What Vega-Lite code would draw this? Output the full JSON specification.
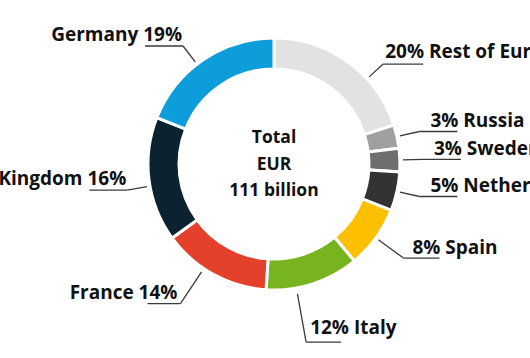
{
  "$schema": "https://vega.github.io/schema/vega-lite/v6.json",
  "width": 512,
  "height": 328,
  "autosize": "none",
  "padding": {"left": 18, "top": 0, "right": 0, "bottom": 30},
  "background": "white",
  "config": {"view": {"stroke": null}},
  "data": {"values": [
    {"country": "Rest of Europe", "value": 20, "order": 1, "label": "20% Rest of Europe"},
    {"country": "Russia", "value": 3, "order": 2, "label": "3% Russia"},
    {"country": "Sweden", "value": 3, "order": 3, "label": "3% Sweden"},
    {"country": "Netherlands", "value": 5, "order": 4, "label": "5% Netherlands"},
    {"country": "Spain", "value": 8, "order": 5, "label": "8% Spain"},
    {"country": "Italy", "value": 12, "order": 6, "label": "12% Italy"},
    {"country": "France", "value": 14, "order": 7, "label": "France 14%"},
    {"country": "United Kingdom", "value": 16, "order": 8, "label": "United Kingdom 16%"},
    {"country": "Germany", "value": 19, "order": 9, "label": "Germany 19%"}
  ]},
  "transform": [
    {"stack": "value", "groupby": [], "sort": [{"field": "order", "order": "ascending"}], "as": ["v0", "v1"]}
  ],
  "layer": [
    {
      "mark": {"type": "arc", "outerRadius": 126, "innerRadius": 95, "stroke": "white", "strokeWidth": 3},
      "encoding": {
        "theta": {"field": "v0", "type": "quantitative", "stack": null, "scale": {"domain": [0, 100]}},
        "theta2": {"field": "v1"},
        "color": {
          "field": "country", "type": "nominal", "legend": null,
          "scale": {
            "domain": ["Rest of Europe", "Russia", "Sweden", "Netherlands", "Spain", "Italy", "France", "United Kingdom", "Germany"],
            "range": ["#e2e2e2", "#a0a0a0", "#6e6e6e", "#333333", "#fdc000", "#77b41f", "#e4412c", "#0b2330", "#0d9ddb"]
          }
        }
      }
    },
    {
      "transform": [
        {"filter": {"field": "country", "oneOf": ["Russia", "Sweden", "Netherlands"]}},
        {"calculate": "2*PI*(datum.v0 + 0.5*datum.value)/100", "as": "a"},
        {"calculate": "129*sin(datum.a)", "as": "x1"},
        {"calculate": "129*cos(datum.a)", "as": "y1"},
        {"calculate": "149*sin(datum.a)", "as": "x2"},
        {"calculate": "149*cos(datum.a)", "as": "y2"},
        {"calculate": "datum.x2 + 38", "as": "x3"}
      ],
      "layer": [
        {"mark": {"type": "rule", "stroke": "#3a3a3a", "strokeWidth": 1.3},
         "encoding": {
           "x": {"field": "x1", "type": "quantitative", "scale": {"domain": [-256, 256], "nice": false, "zero": false}, "axis": null},
           "y": {"field": "y1", "type": "quantitative", "scale": {"domain": [-164, 164], "nice": false, "zero": false}, "axis": null},
           "x2": {"field": "x2"}, "y2": {"field": "y2"}}},
        {"mark": {"type": "rule", "stroke": "#3a3a3a", "strokeWidth": 1.3},
         "encoding": {
           "x": {"field": "x2", "type": "quantitative"},
           "y": {"field": "y2", "type": "quantitative"},
           "x2": {"field": "x3"}}},
        {"mark": {"type": "text", "align": "left", "baseline": "alphabetic", "dx": 11, "dy": -4.5, "font": "Open Sans", "fontSize": 19, "fontWeight": 700, "fill": "#111111"},
         "encoding": {
           "x": {"field": "x2", "type": "quantitative"},
           "y": {"field": "y2", "type": "quantitative"},
           "text": {"field": "label"}}}
      ]
    },
    {
      "transform": [
        {"filter": {"field": "country", "equal": "Rest of Europe"}},
        {"calculate": "2*PI*(datum.v0 + 0.66*datum.value)/100", "as": "a"},
        {"calculate": "129*sin(datum.a)", "as": "x1"},
        {"calculate": "129*cos(datum.a)", "as": "y1"},
        {"calculate": "148*sin(datum.a)", "as": "x2"},
        {"calculate": "148*cos(datum.a)", "as": "y2"},
        {"calculate": "datum.x2 + 40", "as": "x3"}
      ],
      "layer": [
        {"mark": {"type": "rule", "stroke": "#3a3a3a", "strokeWidth": 1.3},
         "encoding": {"x": {"field": "x1", "type": "quantitative"}, "y": {"field": "y1", "type": "quantitative"}, "x2": {"field": "x2"}, "y2": {"field": "y2"}}},
        {"mark": {"type": "rule", "stroke": "#3a3a3a", "strokeWidth": 1.3},
         "encoding": {"x": {"field": "x2", "type": "quantitative"}, "y": {"field": "y2", "type": "quantitative"}, "x2": {"field": "x3"}}},
        {"mark": {"type": "text", "align": "left", "baseline": "alphabetic", "dx": 2, "dy": -6.5, "font": "Open Sans", "fontSize": 19, "fontWeight": 700, "fill": "#111111"},
         "encoding": {"x": {"field": "x2", "type": "quantitative"}, "y": {"field": "y2", "type": "quantitative"}, "text": {"field": "label"}}}
      ]
    },
    {
      "transform": [
        {"filter": {"field": "country", "equal": "Spain"}},
        {"calculate": "2*PI*(datum.v0 + 0.5*datum.value)/100", "as": "a"},
        {"calculate": "129*sin(datum.a)", "as": "x1"},
        {"calculate": "129*cos(datum.a)", "as": "y1"},
        {"calculate": "160*sin(datum.a)", "as": "x2"},
        {"calculate": "160*cos(datum.a)", "as": "y2"},
        {"calculate": "datum.x2 + 36", "as": "x3"}
      ],
      "layer": [
        {"mark": {"type": "rule", "stroke": "#3a3a3a", "strokeWidth": 1.3},
         "encoding": {"x": {"field": "x1", "type": "quantitative"}, "y": {"field": "y1", "type": "quantitative"}, "x2": {"field": "x2"}, "y2": {"field": "y2"}}},
        {"mark": {"type": "rule", "stroke": "#3a3a3a", "strokeWidth": 1.3},
         "encoding": {"x": {"field": "x2", "type": "quantitative"}, "y": {"field": "y2", "type": "quantitative"}, "x2": {"field": "x3"}}},
        {"mark": {"type": "text", "align": "left", "baseline": "alphabetic", "dx": 9, "dy": -4.5, "font": "Open Sans", "fontSize": 19, "fontWeight": 700, "fill": "#111111"},
         "encoding": {"x": {"field": "x2", "type": "quantitative"}, "y": {"field": "y2", "type": "quantitative"}, "text": {"field": "label"}}}
      ]
    },
    {
      "transform": [
        {"filter": {"field": "country", "equal": "Italy"}},
        {"calculate": "2*PI*(datum.v0 + 0.68*datum.value)/100", "as": "a"},
        {"calculate": "132*sin(datum.a)", "as": "x1"},
        {"calculate": "132*cos(datum.a)", "as": "y1"},
        {"calculate": "181*sin(datum.a)", "as": "x2"},
        {"calculate": "181*cos(datum.a)", "as": "y2"},
        {"calculate": "datum.x2 + 35", "as": "x3"}
      ],
      "layer": [
        {"mark": {"type": "rule", "stroke": "#3a3a3a", "strokeWidth": 1.3},
         "encoding": {"x": {"field": "x1", "type": "quantitative"}, "y": {"field": "y1", "type": "quantitative"}, "x2": {"field": "x2"}, "y2": {"field": "y2"}}},
        {"mark": {"type": "rule", "stroke": "#3a3a3a", "strokeWidth": 1.3},
         "encoding": {"x": {"field": "x2", "type": "quantitative"}, "y": {"field": "y2", "type": "quantitative"}, "x2": {"field": "x3"}}},
        {"mark": {"type": "text", "align": "left", "baseline": "alphabetic", "dx": 4, "dy": -8, "font": "Open Sans", "fontSize": 19, "fontWeight": 700, "fill": "#111111"},
         "encoding": {"x": {"field": "x2", "type": "quantitative"}, "y": {"field": "y2", "type": "quantitative"}, "text": {"field": "label"}}}
      ]
    },
    {
      "transform": [
        {"filter": {"field": "country", "equal": "France"}},
        {"calculate": "2*PI*(datum.v0 + 0.6*datum.value)/100", "as": "a"},
        {"calculate": "130*sin(datum.a)", "as": "x1"},
        {"calculate": "130*cos(datum.a)", "as": "y1"},
        {"calculate": "168*sin(datum.a)", "as": "x2"},
        {"calculate": "168*cos(datum.a)", "as": "y2"},
        {"calculate": "datum.x2 - 33", "as": "x3"}
      ],
      "layer": [
        {"mark": {"type": "rule", "stroke": "#3a3a3a", "strokeWidth": 1.3},
         "encoding": {"x": {"field": "x1", "type": "quantitative"}, "y": {"field": "y1", "type": "quantitative"}, "x2": {"field": "x2"}, "y2": {"field": "y2"}}},
        {"mark": {"type": "rule", "stroke": "#3a3a3a", "strokeWidth": 1.3},
         "encoding": {"x": {"field": "x2", "type": "quantitative"}, "y": {"field": "y2", "type": "quantitative"}, "x2": {"field": "x3"}}},
        {"mark": {"type": "text", "align": "right", "baseline": "alphabetic", "dx": -3, "dy": -5, "font": "Open Sans", "fontSize": 19, "fontWeight": 700, "fill": "#111111"},
         "encoding": {"x": {"field": "x2", "type": "quantitative"}, "y": {"field": "y2", "type": "quantitative"}, "text": {"field": "label"}}}
      ]
    },
    {
      "transform": [
        {"filter": {"field": "country", "oneOf": ["United Kingdom", "Germany"]}},
        {"calculate": "2*PI*(datum.v0 + 0.45*datum.value)/100", "as": "a"},
        {"calculate": "129*sin(datum.a)", "as": "x1"},
        {"calculate": "129*cos(datum.a)", "as": "y1"},
        {"calculate": "149*sin(datum.a)", "as": "x2"},
        {"calculate": "149*cos(datum.a)", "as": "y2"},
        {"calculate": "datum.x2 - 38", "as": "x3"}
      ],
      "layer": [
        {"mark": {"type": "rule", "stroke": "#3a3a3a", "strokeWidth": 1.3},
         "encoding": {"x": {"field": "x1", "type": "quantitative"}, "y": {"field": "y1", "type": "quantitative"}, "x2": {"field": "x2"}, "y2": {"field": "y2"}}},
        {"mark": {"type": "rule", "stroke": "#3a3a3a", "strokeWidth": 1.3},
         "encoding": {"x": {"field": "x2", "type": "quantitative"}, "y": {"field": "y2", "type": "quantitative"}, "x2": {"field": "x3"}}},
        {"mark": {"type": "text", "align": "right", "baseline": "alphabetic", "dx": -1, "dy": -5, "font": "Open Sans", "fontSize": 19, "fontWeight": 700, "fill": "#111111"},
         "encoding": {"x": {"field": "x2", "type": "quantitative"}, "y": {"field": "y2", "type": "quantitative"}, "text": {"field": "label"}}}
      ]
    },
    {
      "transform": [{"filter": {"field": "order", "equal": 1}}],
      "mark": {"type": "text", "align": "center", "baseline": "alphabetic", "lineHeight": 26.5, "dy": -21, "font": "Open Sans", "fontSize": 17.5, "fontWeight": 700, "fill": "#111111"},
      "encoding": {
        "text": {"value": ["Total", "EUR", "111 billion"]}
      }
    }
  ]
}
